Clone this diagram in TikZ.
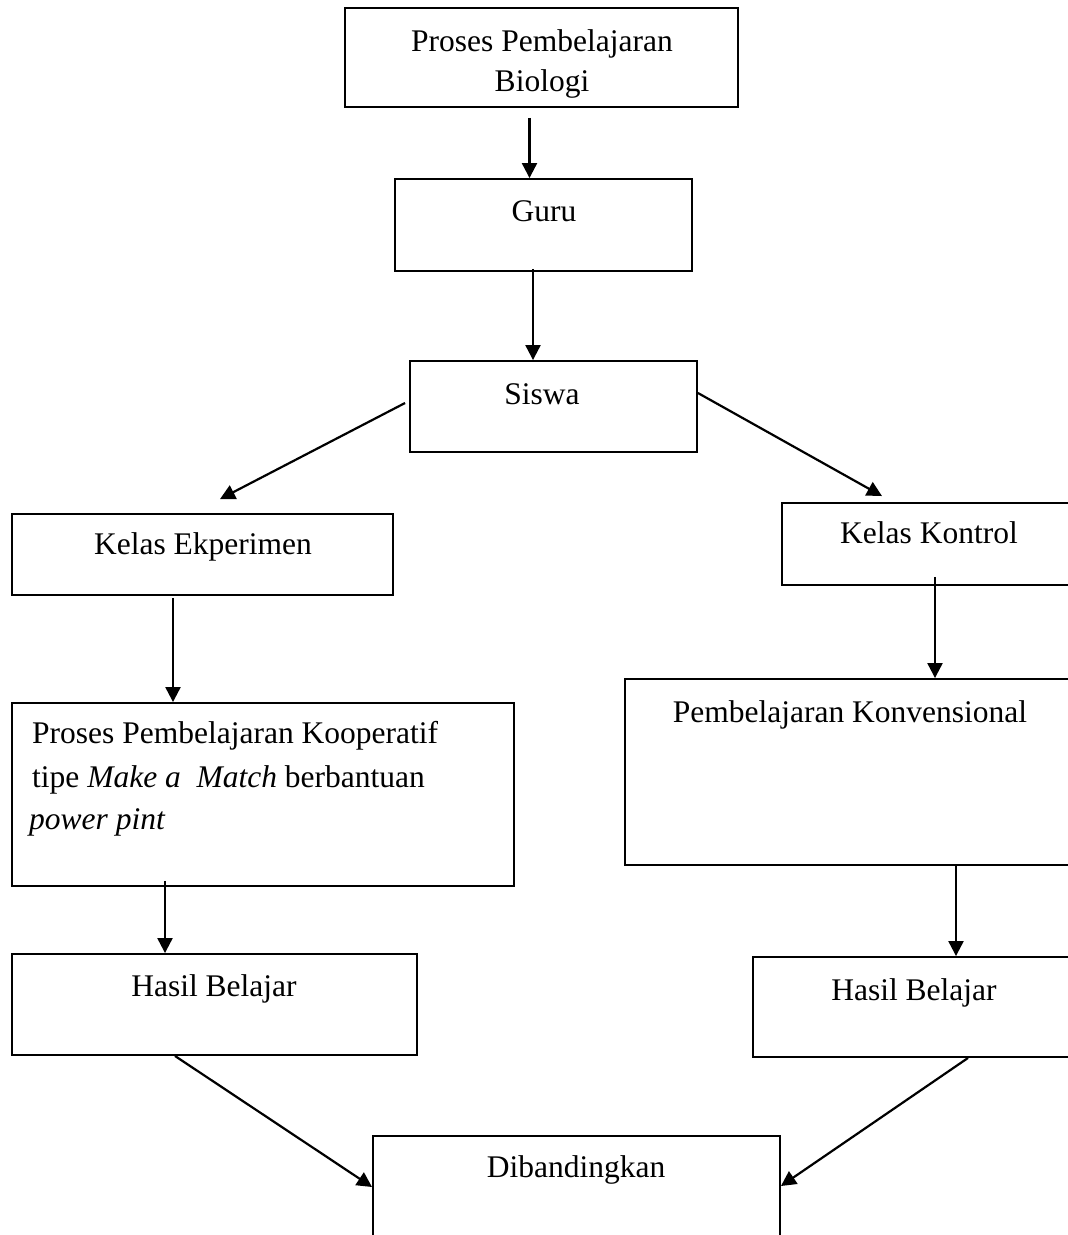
\documentclass[tikz,border=0pt]{standalone}
\usepackage{fontspec}
\setmainfont{Liberation Serif}
\usetikzlibrary{arrows.meta}
\begin{document}
\begin{tikzpicture}[x=1pt,y=-1pt,
  box/.style={draw,line width=1.9pt,rectangle,inner sep=0pt},
  txt/.style={inner sep=0pt,anchor=base,font=\fontsize{31.5}{38}\selectfont},
  ltxt/.style={inner sep=0pt,anchor=base west,font=\fontsize{31.5}{38}\selectfont},
  arr/.style={line width=2.2pt,-{Triangle[length=15pt,width=15pt]}}]
\clip (0,0) rectangle (1068,1235);
\fill[white] (0,0) rectangle (1068,1235);
% boxes
\node[box,minimum width=393pt,minimum height=99pt] (top) at (541.5,57.5) {};
\node[box,minimum width=297pt,minimum height=92pt] (guru) at (543.5,225) {};
\node[box,minimum width=287pt,minimum height=91pt] (siswa) at (553.5,406.5) {};
\node[box,minimum width=381pt,minimum height=81pt] (kelasE) at (202.5,554.5) {};
\node[box,minimum width=318pt,minimum height=82pt] (kelasK) at (941,544) {};
\node[box,minimum width=502pt,minimum height=183pt] (prosesK) at (263,794.5) {};
\node[box,minimum width=475pt,minimum height=186pt] (konv) at (862.5,772) {};
\node[box,minimum width=405pt,minimum height=101pt] (hasilL) at (214.5,1004.5) {};
\node[box,minimum width=347pt,minimum height=100pt] (hasilR) at (926.5,1007) {};
\node[box,minimum width=407pt,minimum height=134pt] (dib) at (576.5,1203) {};
% texts
\node[txt] (t1a) at (542,51) {Proses Pembelajaran};
\node[txt] (t1b) at (542,91) {Biologi};
\node[txt] (t2) at (544,221) {Guru};
\node[txt] (t3) at (542,404) {Siswa};
\node[txt] (t4) at (203,554) {Kelas Ekperimen};
\node[txt] (t5) at (929,543) {Kelas Kontrol};
\node[ltxt] (t6a) at (32,743) {Proses Pembelajaran Kooperatif};
\node[ltxt] (t6b) at (32,787) {tipe \textit{Make a\ \ Match} berbantuan};
\node[ltxt] (t6c) at (29,829) {\textit{power pint}};
\node[txt] (t7) at (850,722) {Pembelajaran Konvensional};
\node[txt] (t8) at (214,996) {Hasil Belajar};
\node[txt] (t9) at (914,1000) {Hasil Belajar};
\node[txt] (t10) at (576,1177) {Dibandingkan};
% arrows
\draw[arr] ([xshift=-12pt,yshift=-10pt]top.south) -- ([xshift=-12pt]top.south |- guru.north);
\draw[arr] ([xshift=-10.5pt,yshift=3pt]guru.south) -- ([xshift=-10.5pt]guru.south |- siswa.north);
\draw[arr] ([xshift=-4pt,yshift=3.5pt]siswa.west) -- ([xshift=17.5pt,yshift=14pt]kelasE.north);
\draw[arr] ([yshift=13.5pt]siswa.east) -- ([xshift=-59pt,yshift=6pt]kelasK.north);
\draw[arr] ([xshift=-29.5pt,yshift=-2pt]kelasE.south) -- ([xshift=-29.5pt]kelasE.south |- prosesK.north);
\draw[arr] ([xshift=-6pt,yshift=9pt]kelasK.south) -- ([xshift=-6pt]kelasK.south |- konv.north);
\draw[arr] ([xshift=-98pt,yshift=6pt]prosesK.south) -- ([xshift=-98pt]prosesK.south |- hasilL.north);
\draw[arr] ([xshift=93.5pt]konv.south) -- ([xshift=93.5pt]konv.south |- hasilR.north);
\draw[arr] ([xshift=-39.5pt]hasilL.south) -- ([yshift=16pt]dib.west);
\draw[arr] ([xshift=41.5pt]hasilR.south) -- ([yshift=17pt]dib.east);
\end{tikzpicture}
\end{document}
